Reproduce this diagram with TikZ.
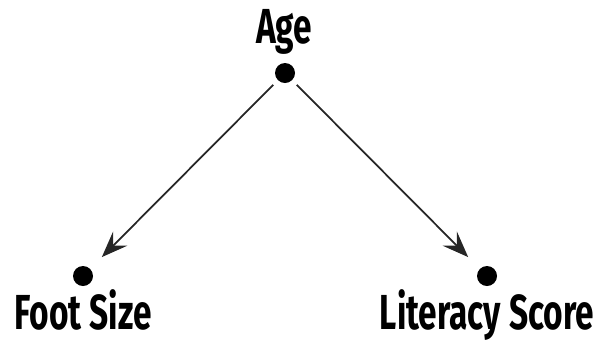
\documentclass[tikz,border=0pt]{standalone}
\usepackage{fontspec}
\setmainfont{Fira Sans}[FakeStretch=0.68]
\usepackage{xcolor}
\usepackage{tikz}
\usetikzlibrary{arrows.meta,positioning}
\definecolor{ink}{HTML}{000000}
\tikzset{
  font=\bfseries,
  vertex/.style={circle,fill=ink,inner sep=0pt,minimum size=2mm},
  tag/.style={font=\bfseries\fontsize{14}{16}\selectfont,text=ink,inner sep=0pt,anchor=base},
  causes/.style={-{Stealth[length=2.6mm,width=2mm,inset=1mm]},line width=.5pt,draw=ink!85,shorten >=1.6mm,shorten <=.6mm}
}
\begin{document}
\begin{tikzpicture}
\useasboundingbox (0,0) rectangle (5.98,3.45);
\node[vertex] (age) at (2.85,2.72) {};
\node[vertex] (foot) at (0.83,0.69) {};
\node[vertex] (lit) at (4.87,0.69) {};
\node[tag] (ageL) at (2.84,3.02) {Age};
\node[tag] (footL) at (0.83,0.16) {Foot Size};
\node[tag] (litL) at (4.87,0.16) {Literacy Score};
\draw[causes] (age) -- (foot);
\draw[causes] (age) -- (lit);
\end{tikzpicture}
\end{document}
